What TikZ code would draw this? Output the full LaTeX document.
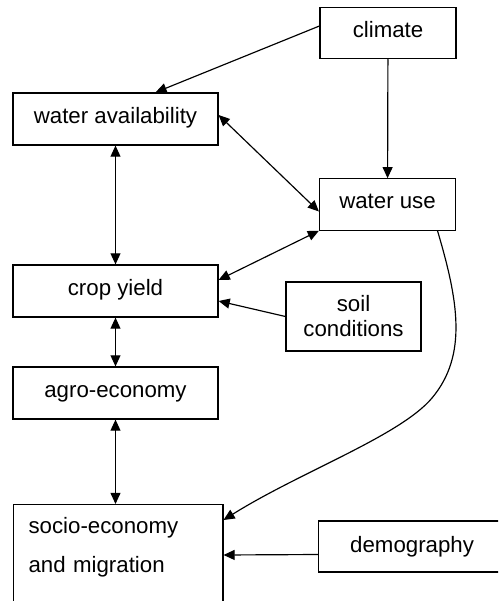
\documentclass[tikz,border=0pt]{standalone}
\usepackage{fontspec}
\setmainfont{Liberation Sans}
\usetikzlibrary{arrows.meta,calc}

\begin{document}
\begin{tikzpicture}[
    x=0.03cm, y=-0.03cm,
    every node/.style={font=\fontsize{19}{23}\selectfont},
    box/.style={draw, line width=1pt, inner sep=0pt, align=center, text height=11pt, text depth=4pt},
    wide/.style={box, minimum width=6.15cm, minimum height=1.56cm},
    small/.style={box, minimum width=4.08cm, minimum height=1.54cm},
    arr/.style={draw, line width=1pt, -{Triangle[length=9.5pt,width=8.5pt]}},
    both/.style={draw, line width=1pt, {Triangle[length=9.5pt,width=8.5pt]}-{Triangle[length=9.5pt,width=8.5pt]}}
]
\path[use as bounding box] (0,0) rectangle (498,601);
\clip (0,0) rectangle (498,601);

\node[small] (climate) at (388,33) {climate};
\node[wide] (wa) at (115.5,119) {water availability};
\node[small] (wateruse) at (387.5,204.5) {water use};
\node[wide] (crop) at (115.5,291) {crop yield};
\node[box, minimum width=4.05cm, minimum height=2.07cm, text height=, text depth=,
      font=\fontsize{19}{21.3}\selectfont] (soil) at (353.5,316.5) {soil\\conditions};
\node[wide] (agro) at (115.5,393) {agro-economy};
\node[box, anchor=north west, inner xsep=12.8pt, text width=5.38cm, align=left,
      text height=24.7pt, text depth=80pt, font=\fontsize{19}{33}\selectfont]
      (socio) at (13,504) {socio-economy\\and migration};
\node[box, anchor=west, minimum height=1.53cm, inner xsep=27pt, text width=3.8cm, align=left,
      text height=, text depth=] (demog) at (318,546.5) {demography};

\draw[arr] ($(climate.west)+(0,-7)$) -- ($(wa.north)+(40,0)$);
\draw[arr] (climate) -- (wateruse);
\draw[both] ($(wa.east)+(0,-4)$) -- ($(wateruse.west)+(0,7)$);
\draw[both] (wa) -- (crop);
\draw[both] (wateruse.south west) -- ($(crop.east)+(0,-11)$);
\draw[arr] (soil.west) -- ($(crop.east)+(0,10)$);
\draw[both] (crop) -- (agro);
\draw[both] (agro) -- (socio.north -| agro);
\draw[arr] ($(wateruse.south)+(50,0)$) .. controls (458,300) and (468,355) .. (432,398)
    .. controls (400,436) and (300,472) .. ($(socio.north east)+(0,16)$);
\draw[arr] ($(demog.west)+(0,8)$) -- ($(socio.north east)+(0,51)$);

\end{tikzpicture}
\end{document}
